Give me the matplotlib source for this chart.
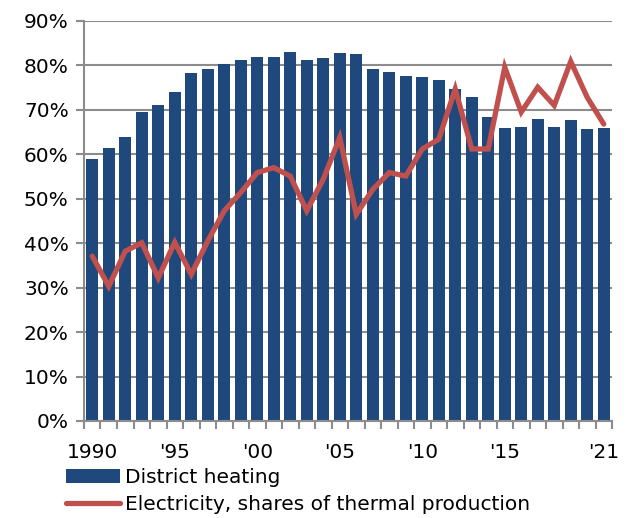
import matplotlib
matplotlib.use("Agg")
import matplotlib.pyplot as plt
from matplotlib.ticker import FixedLocator, FuncFormatter
import numpy as np

# ------------------------------------------------------------------
#  data
# ------------------------------------------------------------------
years = list(range(1990, 2022))
district_heating = [58.9, 61.4, 63.8, 69.5, 71.0, 74.1, 78.3, 79.1, 80.4, 81.3,
                    81.9, 81.9, 83.1, 81.3, 81.6, 82.8, 82.5, 79.1, 78.6, 77.7,
                    77.4, 76.7, 74.8, 72.8, 68.3, 65.9, 66.2, 68.0, 66.2, 67.7,
                    65.6, 65.9]
electricity = [37.1, 30.3, 38.2, 40.1, 32.2, 40.2, 33.0, 40.5, 47.3, 51.4,
               55.9, 57.0, 55.1, 47.3, 54.4, 63.8, 46.5, 52.1, 55.9, 55.1,
               61.2, 63.4, 74.7, 61.2, 61.2, 79.6, 69.5, 75.1, 71.0, 80.9,
               72.8, 66.8]
tick_labels = {1990: '1990', 1995: "'95", 2000: "'00", 2005: "'05",
               2010: "'10", 2015: "'15", 2021: "'21"}

bar_color = '#1F497D'
line_color = '#C0504D'
grid_color = '#8C8C8C'

plt.rcParams['font.family'] = ['DejaVu Sans']
plt.rcParams['font.size'] = 14.5

fig = plt.figure(figsize=(6.32, 5.18), dpi=100)
ax = fig.add_axes([84 / 632, 97 / 518, 528 / 632, 400 / 518])

x = np.arange(len(years))
bars = ax.bar(x, district_heating, width=0.7, color=bar_color, zorder=2,
              label='District heating')
line, = ax.plot(x, electricity, color=line_color, linewidth=3.8, zorder=3,
                solid_capstyle='round', solid_joinstyle='miter',
                label='Electricity, shares of thermal production')

ax.set_xlim(-0.5, len(years) - 0.5)
ax.set_ylim(0, 90)
ax.set_yticks(np.arange(0, 91, 10))
ax.yaxis.set_major_formatter(FuncFormatter(lambda v, p: f'{v:.0f}%'))
ax.grid(axis='y', color=grid_color, linewidth=1.5, zorder=0)

# category boundary ticks, labels under selected bars
ax.xaxis.set_minor_locator(FixedLocator(np.arange(-0.5, len(years), 1.0)))
label_pos = [years.index(y) for y in tick_labels]
ax.set_xticks(label_pos)
ax.set_xticklabels(list(tick_labels.values()))
ax.tick_params(axis='x', which='major', length=0, pad=16)
ax.tick_params(axis='x', which='minor', length=6, width=1.5, color=grid_color)
ax.tick_params(axis='y', length=6, width=1.5, color=grid_color, pad=5)

for side in ['top', 'right']:
    ax.spines[side].set_visible(False)
for side in ['left', 'bottom']:
    ax.spines[side].set_color(grid_color)
    ax.spines[side].set_linewidth(1.5)

fig.legend(handles=[bars, line], loc='upper left',
           bbox_to_anchor=(66 / 632, 1 - 468 / 518),
           frameon=False, handlelength=2.7, handletextpad=0.25,
           labelspacing=0.4, borderpad=0, borderaxespad=0)

fig.savefig('out.png', dpi=100)
